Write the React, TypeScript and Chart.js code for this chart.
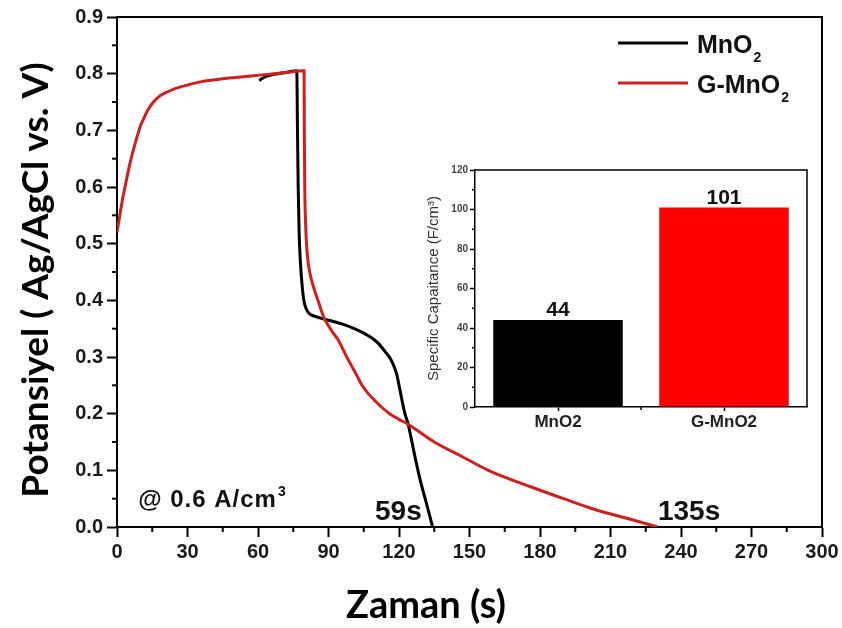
import React, { useEffect, useRef } from 'react';
import { Chart, registerables } from 'chart.js';

Chart.register(...registerables);

// ---- Main chart data (galvanostatic discharge curves) ----
const mno2Time = [60.5, 62, 64, 67, 70, 73, 76.5, 76.8, 77.1, 77.5, 78, 78.7, 79.5, 80.5, 82, 84, 88, 91, 96, 101, 105, 108, 111, 114, 117, 119, 120.4, 122.5, 123.8, 126.5, 129, 131.8, 134.3];
const mno2Potential = [0.788, 0.792, 0.796, 0.799, 0.801, 0.803, 0.805, 0.7, 0.6, 0.52, 0.47, 0.43, 0.4, 0.385, 0.376, 0.372, 0.367, 0.364, 0.358, 0.35, 0.342, 0.335, 0.325, 0.31, 0.292, 0.27, 0.242, 0.2, 0.183, 0.13, 0.083, 0.04, 0.0];

const gmno2Time = [0, 1, 2, 3, 4, 5, 6, 7, 8, 9, 10, 11.5, 13, 15.5, 18, 21.5, 25, 30, 36, 45, 57, 65, 72, 79.6, 79.7, 79.9, 80.3, 81, 82, 83.5, 85.5, 88, 90, 92, 94, 96, 98, 100, 102, 104, 107, 110, 113, 116, 120, 124, 135, 147, 158, 176, 190, 204, 220, 230];
const gmno2Potential = [0.52, 0.545, 0.57, 0.592, 0.612, 0.632, 0.65, 0.666, 0.681, 0.695, 0.708, 0.722, 0.735, 0.75, 0.76, 0.768, 0.774, 0.78, 0.786, 0.791, 0.796, 0.799, 0.802, 0.805, 0.7, 0.6, 0.53, 0.48, 0.45, 0.425, 0.4, 0.37, 0.355, 0.342, 0.331, 0.315, 0.298, 0.283, 0.268, 0.252, 0.235, 0.222, 0.21, 0.2, 0.19, 0.181, 0.15, 0.124, 0.1, 0.071, 0.05, 0.03, 0.012, 0.0];

const xTickValues = [0, 30, 60, 90, 120, 150, 180, 210, 240, 270, 300];
const yTickValues = [0, 0.1, 0.2, 0.3, 0.4, 0.5, 0.6, 0.7, 0.8, 0.9];

const seriesBase = ['MnO', 'G-MnO']; // followed by subscript "2"
const seriesSub = '2';

// ---- Inset bar chart data ----
const insetCategories = ['MnO2', 'G-MnO2'];
const insetValues = [44, 101];
const insetTickValues = [0, 20, 40, 60, 80, 100, 120];

const RED_LINE = '#d11f1f';
const TICK_FONT = { family: '"Liberation Sans", Arial, sans-serif', size: 20, weight: 'bold' as const };

function midpoints(arr: number[]) {
  const out: number[] = [];
  for (let i = 0; i < arr.length - 1; i++) out.push((arr[i] + arr[i + 1]) / 2);
  return out;
}

const mainOverlay = {
  id: 'mainOverlay',
  afterDatasetsDraw(chart: any) {
    const { ctx, chartArea } = chart;
    const xs = chart.scales.x;
    const ys = chart.scales.y;
    ctx.save();
    // frame top & right
    ctx.strokeStyle = '#000';
    ctx.lineWidth = 2;
    ctx.beginPath();
    ctx.moveTo(chartArea.left, chartArea.top);
    ctx.lineTo(chartArea.right, chartArea.top);
    ctx.lineTo(chartArea.right, chartArea.bottom);
    ctx.stroke();

    // minor ticks
    ctx.lineWidth = 2;
    midpoints(xTickValues).forEach((v) => {
      const px = xs.getPixelForValue(v);
      ctx.beginPath();
      ctx.moveTo(px, chartArea.bottom);
      ctx.lineTo(px, chartArea.bottom + 5);
      ctx.stroke();
    });
    midpoints(yTickValues).forEach((v) => {
      const py = ys.getPixelForValue(v);
      ctx.beginPath();
      ctx.moveTo(chartArea.left, py);
      ctx.lineTo(chartArea.left - 5, py);
      ctx.stroke();
    });

    // axis titles
    ctx.fillStyle = '#000';
    ctx.textBaseline = 'alphabetic';
    ctx.textAlign = 'center';
    ctx.font = 'bold 38px Lato, "Open Sans", sans-serif';
    ctx.fillText('Zaman (s)', chartArea.left + 309, chartArea.bottom + 91);

    ctx.save();
    ctx.translate(36, chartArea.top + 263);
    ctx.rotate(-Math.PI / 2);
    ctx.textBaseline = 'middle';
    ctx.font = 'bold 37px Lato, "Open Sans", sans-serif';
    ctx.fillText('Potansiyel ( Ag/AgCl vs. V)', 0, 0);
    ctx.restore();

    // annotations
    ctx.fillStyle = '#111';
    ctx.textAlign = 'left';
    ctx.textBaseline = 'alphabetic';
    ctx.font = 'bold 24px "Liberation Sans", Arial, sans-serif';
    (ctx as any).letterSpacing = '1px';
    const ax = xs.getPixelForValue(9);
    const ay = ys.getPixelForValue(0.035);
    const txt = '@ 0.6 A/cm';
    ctx.fillText(txt, ax, ay);
    const w = ctx.measureText(txt).width;
    (ctx as any).letterSpacing = '0px';
    ctx.font = 'bold 14px "Liberation Sans", Arial, sans-serif';
    ctx.fillText('3', ax + w + 1, ay - 11);

    ctx.font = 'bold 28px "Liberation Sans", Arial, sans-serif';
    ctx.fillText('59s', xs.getPixelForValue(109.8), ys.getPixelForValue(0.012));
    ctx.fillText('135s', xs.getPixelForValue(230.2), ys.getPixelForValue(0.012));

    // legend
    const colors = ['#000', RED_LINE];
    const lx = chartArea.right - 204;
    [26, 66].forEach((dy, i) => {
      const ly = chartArea.top + dy;
      ctx.strokeStyle = colors[i];
      ctx.lineWidth = 3;
      ctx.beginPath();
      ctx.moveTo(lx, ly);
      ctx.lineTo(lx + 70, ly);
      ctx.stroke();
      ctx.fillStyle = '#111';
      ctx.font = 'bold 25px "Liberation Sans", Arial, sans-serif';
      const bx = lx + 79;
      const by = ly + 10;
      ctx.fillText(seriesBase[i], bx, by);
      const bw = ctx.measureText(seriesBase[i]).width;
      ctx.font = 'bold 14px "Liberation Sans", Arial, sans-serif';
      ctx.fillText(seriesSub, bx + bw + 1, by + 9);
    });
    ctx.restore();
  },
};

const insetOverlay = {
  id: 'insetOverlay',
  afterDatasetsDraw(chart: any) {
    const { ctx, chartArea } = chart;
    const ys = chart.scales.y;
    const xs = chart.scales.x;
    ctx.save();
    ctx.strokeStyle = '#000';
    ctx.lineWidth = 1.5;
    ctx.beginPath();
    ctx.moveTo(chartArea.left, chartArea.top);
    ctx.lineTo(chartArea.right, chartArea.top);
    ctx.lineTo(chartArea.right, chartArea.bottom);
    ctx.stroke();
    // minor ticks
    midpoints(insetTickValues).forEach((v) => {
      const py = ys.getPixelForValue(v);
      ctx.beginPath();
      ctx.moveTo(chartArea.left, py);
      ctx.lineTo(chartArea.left - 3, py);
      ctx.stroke();
    });
    const bx = (xs.getPixelForValue(0) + xs.getPixelForValue(1)) / 2;
    ctx.beginPath();
    ctx.moveTo(bx, chartArea.bottom);
    ctx.lineTo(bx, chartArea.bottom + 3);
    ctx.stroke();
    // value labels
    const meta = chart.getDatasetMeta(0);
    ctx.fillStyle = '#111';
    ctx.textAlign = 'center';
    ctx.textBaseline = 'alphabetic';
    ctx.font = 'bold 21px "Liberation Sans", Arial, sans-serif';
    meta.data.forEach((bar: any, i: number) => {
      ctx.fillText(String(insetValues[i]), bar.x, bar.y - 4);
    });
    ctx.restore();
  },
};

export default function App() {
  const mainRef = useRef<HTMLCanvasElement>(null);
  const insetRef = useRef<HTMLCanvasElement>(null);

  useEffect(() => {
    const mainChart = new Chart(mainRef.current as HTMLCanvasElement, {
      type: 'line',
      data: {
        datasets: [
          {
            label: 'G-MnO2',
            data: gmno2Time.map((t, i) => ({ x: t, y: gmno2Potential[i] })),
            borderColor: RED_LINE,
            borderWidth: 3,
            pointRadius: 0,
            cubicInterpolationMode: 'monotone',
            fill: false,
          },
          {
            label: 'MnO2',
            data: mno2Time.map((t, i) => ({ x: t, y: mno2Potential[i] })),
            borderColor: '#000',
            borderWidth: 3,
            pointRadius: 0,
            cubicInterpolationMode: 'monotone',
            fill: false,
          },
        ],
      },
      options: {
        responsive: false,
        animation: false,
        devicePixelRatio: 1,
        layout: { padding: { left: 0, right: 20, top: 17, bottom: 0 } },
        plugins: { legend: { display: false }, tooltip: { enabled: false } },
        scales: {
          x: {
            type: 'linear',
            min: 0,
            max: 300,
            afterBuildTicks: (s: any) => {
              s.ticks = xTickValues.map((v) => ({ value: v }));
            },
            afterFit: (s: any) => {
              s.height = 101;
            },
            ticks: { font: TICK_FONT, color: '#1a1a1a', padding: 3, maxRotation: 0, autoSkip: false },
            grid: { drawOnChartArea: false, drawTicks: true, tickLength: 10, tickWidth: 2, tickColor: '#000' },
            border: { display: true, color: '#000', width: 2 },
          },
          y: {
            type: 'linear',
            min: 0,
            max: 0.9,
            afterBuildTicks: (s: any) => {
              s.ticks = yTickValues.map((v) => ({ value: v }));
            },
            afterFit: (s: any) => {
              s.width = 117;
            },
            ticks: {
              font: TICK_FONT,
              color: '#1a1a1a',
              padding: 4,
              callback: (v: any) => Number(v).toFixed(1),
            },
            grid: { drawOnChartArea: false, drawTicks: true, tickLength: 10, tickWidth: 2, tickColor: '#000' },
            border: { display: true, color: '#000', width: 2 },
          },
        },
      },
      plugins: [mainOverlay],
    } as any);

    const insetChart = new Chart(insetRef.current as HTMLCanvasElement, {
      type: 'bar',
      data: {
        labels: insetCategories,
        datasets: [
          {
            data: insetValues,
            backgroundColor: ['#000000', '#ff0000'],
            borderWidth: 0,
            barPercentage: 0.78,
            categoryPercentage: 1,
          },
        ],
      },
      options: {
        responsive: false,
        animation: false,
        devicePixelRatio: 1,
        layout: { padding: { left: 0, right: 13, top: 10, bottom: 0 } },
        plugins: { legend: { display: false }, tooltip: { enabled: false } },
        scales: {
          x: {
            type: 'category',
            afterFit: (s: any) => {
              s.height = 33;
            },
            ticks: {
              font: { family: '"Liberation Sans", Arial, sans-serif', size: 17, weight: 'bold' },
              color: '#222',
              padding: 1,
            },
            grid: { drawOnChartArea: false, drawTicks: true, tickLength: 4, tickWidth: 1.5, tickColor: '#000', offset: false },
            border: { display: true, color: '#000', width: 1.5 },
          },
          y: {
            type: 'linear',
            min: 0,
            max: 120,
            afterBuildTicks: (s: any) => {
              s.ticks = insetTickValues.map((v) => ({ value: v }));
            },
            afterFit: (s: any) => {
              s.width = 55;
            },
            ticks: {
              font: { family: '"Liberation Sans", Arial, sans-serif', size: 10, weight: 'bold' },
              color: '#444',
              padding: 2,
            },
            grid: { drawOnChartArea: false, drawTicks: true, tickLength: 5, tickWidth: 1.5, tickColor: '#000' },
            border: { display: true, color: '#000', width: 1.5 },
            title: {
              display: true,
              text: 'Specific Capaitance (F/cm³)',
              color: '#333',
              font: { family: '"Liberation Sans", Arial, sans-serif', size: 15, weight: 'normal' },
              padding: { top: 5, bottom: 0 },
            },
          },
        },
      },
      plugins: [insetOverlay],
    } as any);

    return () => {
      mainChart.destroy();
      insetChart.destroy();
    };
  }, []);

  return (
    <div style={{ position: 'absolute', left: 0, top: 0, width: 842, height: 628, background: '#fff' }}>
      <canvas ref={mainRef} width={842} height={628} style={{ position: 'absolute', left: 0, top: 0 }} />
      <canvas ref={insetRef} width={400} height={280} style={{ position: 'absolute', left: 420, top: 160 }} />
    </div>
  );
}
